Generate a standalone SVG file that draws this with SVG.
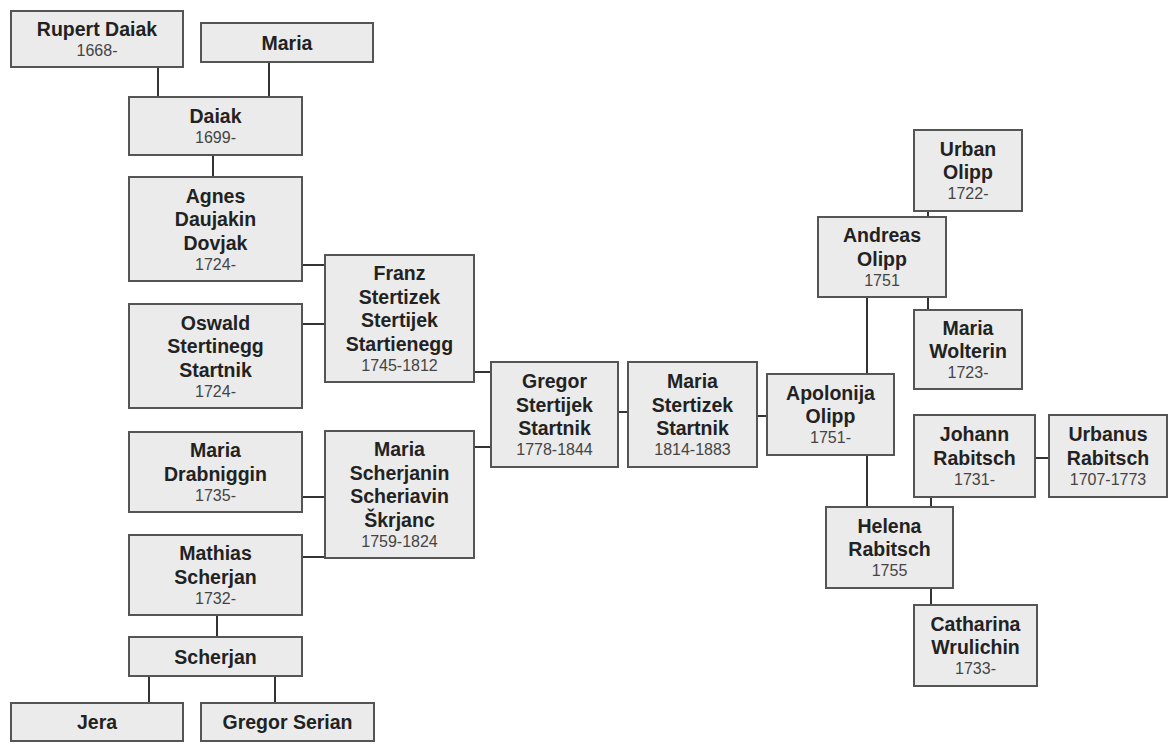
<svg xmlns="http://www.w3.org/2000/svg" width="1169" height="753" viewBox="0 0 1169 753">
<style>
.box{fill:#ebebeb;stroke:#555;stroke-width:2}
.n{font-family:"Liberation Sans",Arial,sans-serif;font-weight:bold;font-size:19.5px;fill:#222;text-anchor:middle}
.d{font-family:"Liberation Sans",Arial,sans-serif;font-size:16px;fill:#444;text-anchor:middle}
.c{stroke:#333;stroke-width:2;fill:none}
</style>
<rect width="1169" height="753" fill="#fff"/>
<g id="connectors">
<path class="c" d="M158 67V97M269 62V97M213 155V177M302 265H325M302 324H325M474 372H491M474 447H491M302 497H325M302 557H325M217 615V637M149 676V703M275 676V703M618 412H628M757 416H767M867 297V374M867 455V507M928 211V217M928 297V310M1035 458H1049M931 497V507M931 588V605"/>
</g>
<g id="rupert"><rect class="box" x="11" y="11" width="172" height="56"/><text class="n" x="97" y="36">Rupert Daiak</text><text class="d" x="97" y="56">1668-</text></g>
<g id="maria_top"><rect class="box" x="201" y="23" width="172" height="39"/><text class="n" x="287" y="49.5">Maria</text></g>
<g id="daiak"><rect class="box" x="129" y="97" width="173" height="58"/><text class="n" x="215.5" y="123">Daiak</text><text class="d" x="215.5" y="143">1699-</text></g>
<g id="agnes"><rect class="box" x="129" y="177" width="173" height="104"/><text class="n" x="215.5" y="202.5">Agnes</text><text class="n" x="215.5" y="226">Daujakin</text><text class="n" x="215.5" y="249.5">Dovjak</text><text class="d" x="215.5" y="269.5">1724-</text></g>
<g id="oswald"><rect class="box" x="129" y="304" width="173" height="104"/><text class="n" x="215.5" y="329.5">Oswald</text><text class="n" x="215.5" y="353">Stertinegg</text><text class="n" x="215.5" y="376.5">Startnik</text><text class="d" x="215.5" y="396.5">1724-</text></g>
<g id="franz"><rect class="box" x="325" y="255" width="149" height="127"/><text class="n" x="399.5" y="280.25">Franz</text><text class="n" x="399.5" y="303.75">Stertizek</text><text class="n" x="399.5" y="327.25">Stertijek</text><text class="n" x="399.5" y="350.75">Startienegg</text><text class="d" x="399.5" y="370.75">1745-1812</text></g>
<g id="maria_drabniggin"><rect class="box" x="129" y="432" width="173" height="80"/><text class="n" x="215.5" y="457.25">Maria</text><text class="n" x="215.5" y="480.75">Drabniggin</text><text class="d" x="215.5" y="500.75">1735-</text></g>
<g id="maria_scherjanin"><rect class="box" x="325" y="431" width="149" height="127"/><text class="n" x="399.5" y="456.25">Maria</text><text class="n" x="399.5" y="479.75">Scherjanin</text><text class="n" x="399.5" y="503.25">Scheriavin</text><text class="n" x="399.5" y="526.75">Škrjanc</text><text class="d" x="399.5" y="546.75">1759-1824</text></g>
<g id="mathias"><rect class="box" x="129" y="535" width="173" height="80"/><text class="n" x="215.5" y="560.25">Mathias</text><text class="n" x="215.5" y="583.75">Scherjan</text><text class="d" x="215.5" y="603.75">1732-</text></g>
<g id="scherjan"><rect class="box" x="129" y="637" width="173" height="39"/><text class="n" x="215.5" y="663.5">Scherjan</text></g>
<g id="jera"><rect class="box" x="11" y="703" width="172" height="38"/><text class="n" x="97" y="729">Jera</text></g>
<g id="gregor_serian"><rect class="box" x="201" y="703" width="173" height="38"/><text class="n" x="287.5" y="729">Gregor Serian</text></g>
<g id="gregor"><rect class="box" x="491" y="362" width="127" height="105"/><text class="n" x="554.5" y="388">Gregor</text><text class="n" x="554.5" y="411.5">Stertijek</text><text class="n" x="554.5" y="435">Startnik</text><text class="d" x="554.5" y="455">1778-1844</text></g>
<g id="maria_stertizek"><rect class="box" x="628" y="362" width="129" height="105"/><text class="n" x="692.5" y="388">Maria</text><text class="n" x="692.5" y="411.5">Stertizek</text><text class="n" x="692.5" y="435">Startnik</text><text class="d" x="692.5" y="455">1814-1883</text></g>
<g id="apolonija"><rect class="box" x="767" y="374" width="127" height="81"/><text class="n" x="830.5" y="399.75">Apolonija</text><text class="n" x="830.5" y="423.25">Olipp</text><text class="d" x="830.5" y="443.25">1751-</text></g>
<g id="urban"><rect class="box" x="914" y="130" width="108" height="81"/><text class="n" x="968" y="155.75">Urban</text><text class="n" x="968" y="179.25">Olipp</text><text class="d" x="968" y="199.25">1722-</text></g>
<g id="andreas"><rect class="box" x="818" y="217" width="128" height="80"/><text class="n" x="882" y="242.25">Andreas</text><text class="n" x="882" y="265.75">Olipp</text><text class="d" x="882" y="285.75">1751</text></g>
<g id="maria_wolterin"><rect class="box" x="914" y="310" width="108" height="79"/><text class="n" x="968" y="334.75">Maria</text><text class="n" x="968" y="358.25">Wolterin</text><text class="d" x="968" y="378.25">1723-</text></g>
<g id="johann"><rect class="box" x="914" y="415" width="121" height="82"/><text class="n" x="974.5" y="441.25">Johann</text><text class="n" x="974.5" y="464.75">Rabitsch</text><text class="d" x="974.5" y="484.75">1731-</text></g>
<g id="urbanus"><rect class="box" x="1049" y="415" width="118" height="82"/><text class="n" x="1108" y="441.25">Urbanus</text><text class="n" x="1108" y="464.75">Rabitsch</text><text class="d" x="1108" y="484.75">1707-1773</text></g>
<g id="helena"><rect class="box" x="826" y="507" width="127" height="81"/><text class="n" x="889.5" y="532.75">Helena</text><text class="n" x="889.5" y="556.25">Rabitsch</text><text class="d" x="889.5" y="576.25">1755</text></g>
<g id="catharina"><rect class="box" x="914" y="605" width="123" height="81"/><text class="n" x="975.5" y="630.75">Catharina</text><text class="n" x="975.5" y="654.25">Wrulichin</text><text class="d" x="975.5" y="674.25">1733-</text></g>
</svg>
